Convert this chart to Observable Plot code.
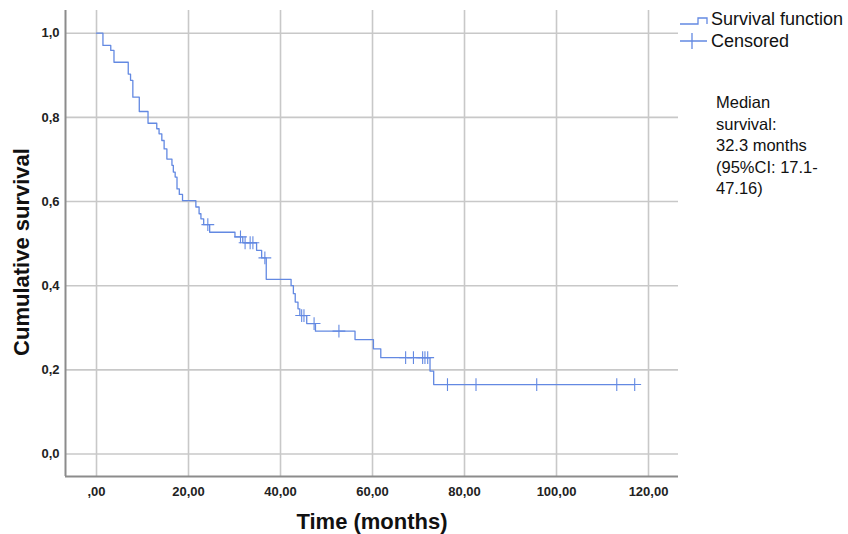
<!DOCTYPE html>
<html><head><meta charset="utf-8">
<script src="https://cdn.jsdelivr.net/npm/d3@7"></script>
<script src="https://cdn.jsdelivr.net/npm/@observablehq/plot@0.6"></script>
<style>
body{margin:0;background:#fff;}
#wrap{position:relative;width:848px;height:534px;overflow:hidden;font-family:"Liberation Sans",Arial,sans-serif;color:#111;}
#wrap svg{position:absolute;left:0;top:0;}
.ttl{position:absolute;font-weight:bold;font-size:22px;white-space:nowrap;}
#xt{left:372px;top:522px;transform:translate(-50%,-50%);}
#yt{left:22px;top:252px;transform:translate(-50%,-50%) rotate(-90deg);}
#legend{position:absolute;left:678px;top:8px;font-size:18px;}
.lg{position:relative;height:22px;line-height:22px;padding-left:33px;white-space:nowrap;}
.lg svg{position:absolute;left:0;top:0;}
#median{position:absolute;left:716px;top:92px;font-size:16.5px;line-height:21.5px;}
</style></head><body><div id="wrap"></div>
<script>
// Kaplan-Meier step curve (time in months, cumulative survival after the step)
const stepTimes = [0, 1.4, 3.1, 3.8, 6.9, 7.4, 7.9, 9.3, 11.2, 13.1,
  13.6, 14.2, 14.7, 15.3, 16.4, 16.7, 17.1, 17.5, 18.0, 18.7,
  21.6, 22.3, 22.7, 23.3, 24.6, 30.1, 31.8, 34.8, 35.9, 36.9,
  42.3, 42.8, 43.2, 43.8, 44.2, 45.7, 47.6, 56.2, 60.2, 61.8,
  72.5, 73.3];
const survival = [1, 0.971, 0.959, 0.931, 0.903, 0.888, 0.848, 0.814, 0.786, 0.773,
  0.761, 0.745, 0.725, 0.701, 0.686, 0.670, 0.658, 0.630, 0.617, 0.602,
  0.587, 0.571, 0.559, 0.545, 0.527, 0.516, 0.502, 0.484, 0.466, 0.415,
  0.400, 0.381, 0.361, 0.345, 0.329, 0.310, 0.292, 0.272, 0.250, 0.229,
  0.197, 0.165];
// Censored observations (months)
const censorTimes = [24.2, 31.3, 32.3, 33.4, 34.0, 36.6, 44.6, 45.1, 47.3, 52.7,
  67.2, 68.9, 70.9, 71.4, 72.0, 76.3, 82.5, 95.7, 113.1, 117.0];

const xTicks = [0, 20, 40, 60, 80, 100, 120];
const xTickLabels = [",00", "20,00", "40,00", "60,00", "80,00", "100,00", "120,00"];
const yTicks = [0, 0.2, 0.4, 0.6, 0.8, 1.0];
const yTickLabels = ["0,0", "0,2", "0,4", "0,6", "0,8", "1,0"];
const xDomain = [-6.74, 126.52];
const yDomain = [-0.0535, 1.054];

const xTitle = "Time (months)";
const yTitle = "Cumulative survival";
const legendLabels = ["Survival function", "Censored"];
const medianLines = ["Median", "survival:", "32.3 months", "(95%CI: 17.1-", "47.16)"];

const color = "#6389e2";

const steps = stepTimes.map((t, i) => ({t, s: survival[i]}));
steps.push({t: censorTimes[censorTimes.length - 1], s: survival[survival.length - 1]});
const survAt = t => { let s = 1; stepTimes.forEach((st, i) => { if (st <= t) s = survival[i]; }); return s; };
const censors = censorTimes.map(t => ({t, s: survAt(t)}));

const chart = Plot.plot({
  width: 848, height: 534,
  marginLeft: 65, marginRight: 170, marginTop: 10, marginBottom: 58,
  style: {fontFamily: '"Liberation Sans Narrow","Arial Narrow","Liberation Sans",sans-serif', fontSize: "13px", fontWeight: "bold", color: "#222", background: "transparent"},
  x: {domain: xDomain},
  y: {domain: yDomain},
  marks: [
    Plot.gridX(xTicks, {stroke: "#c8c8c8", strokeOpacity: 1, strokeWidth: 1.6}),
    Plot.gridY(yTicks, {stroke: "#c8c8c8", strokeOpacity: 1, strokeWidth: 1.6}),
    Plot.axisX(xTicks, {tickSize: 0, tickPadding: 10, label: null, tickFormat: d => xTickLabels[xTicks.indexOf(d)]}),
    Plot.axisY(yTicks, {tickSize: 0, tickPadding: 6, label: null, tickFormat: d => yTickLabels[yTicks.indexOf(d)]}),
    Plot.ruleX([xDomain[0]], {stroke: "#8c8c8c", strokeWidth: 2}),
    Plot.ruleY([yDomain[0]], {stroke: "#8c8c8c", strokeWidth: 2}),
    Plot.line(steps, {x: "t", y: "s", curve: "step-after", stroke: color, strokeWidth: 1.3}),
    Plot.dot(censors, {x: "t", y: "s", symbol: "plus", r: 4.2, stroke: color, strokeWidth: 1.1})
  ]
});
const wrap = document.getElementById("wrap");
wrap.appendChild(chart);

function addDiv(id, cls, text) {
  const d = document.createElement("div");
  if (id) d.id = id;
  if (cls) d.className = cls;
  if (text != null) d.textContent = text;
  return d;
}
wrap.appendChild(addDiv("xt", "ttl", xTitle));
wrap.appendChild(addDiv("yt", "ttl", yTitle));

const legend = addDiv("legend", null, null);
const icons = [
  '<svg width="32" height="22"><path d="M2,16H20V10H29V16" fill="none" stroke="' + color + '" stroke-width="1.3"/></svg>',
  '<svg width="32" height="22"><path d="M2,11H29M14,3V19" fill="none" stroke="' + color + '" stroke-width="1.3"/></svg>'
];
legendLabels.forEach((lab, i) => {
  const row = addDiv(null, "lg", null);
  row.innerHTML = icons[i];
  row.appendChild(document.createTextNode(lab));
  legend.appendChild(row);
});
wrap.appendChild(legend);

const med = addDiv("median", null, null);
medianLines.forEach(l => med.appendChild(addDiv(null, null, l)));
wrap.appendChild(med);
</script>
</body></html>
